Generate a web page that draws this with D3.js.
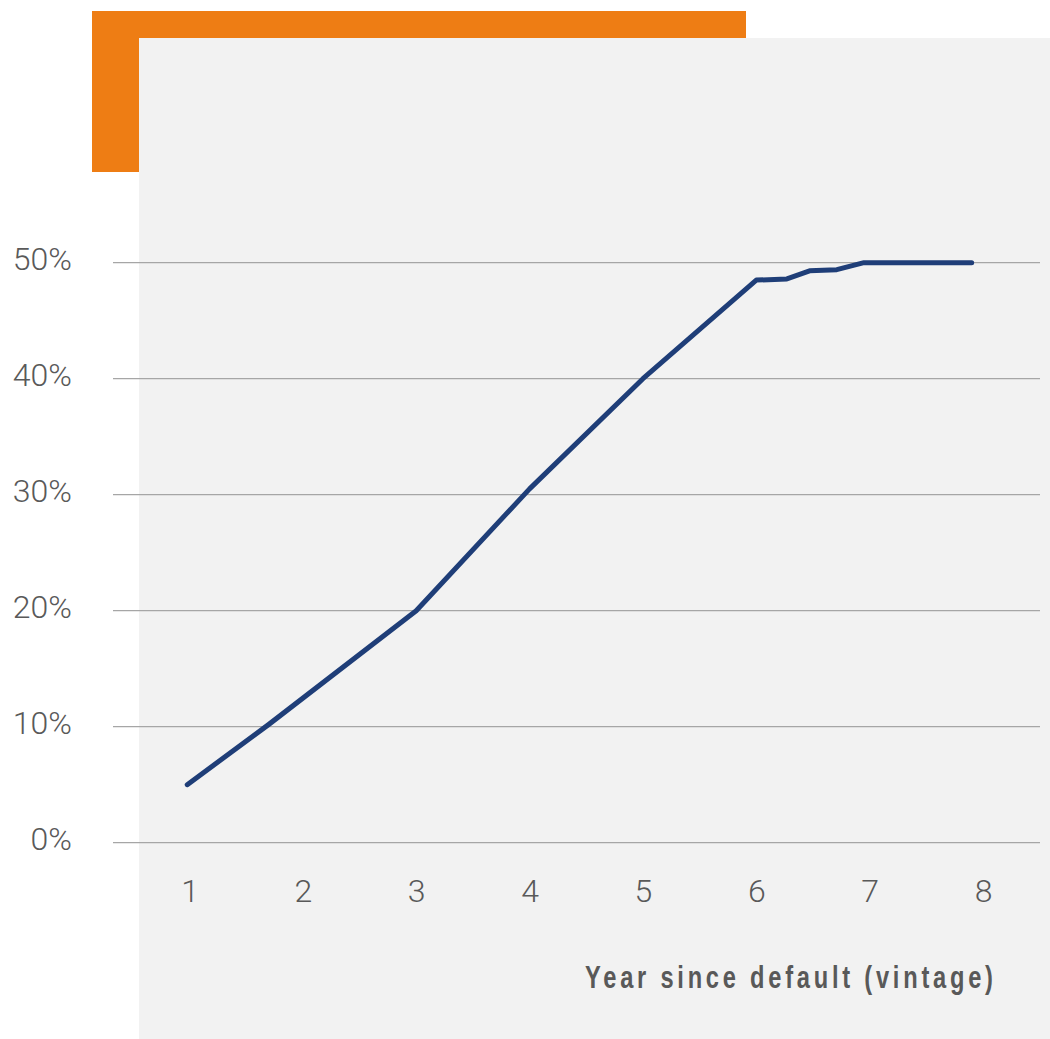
<!DOCTYPE html>
<html>
<head>
<meta charset="utf-8">
<script src="https://cdn.jsdelivr.net/npm/d3@7"></script>
<style>
  html, body { margin: 0; padding: 0; background: #ffffff; }
  svg { display: block; }
</style>
</head>
<body>
<div id="chart"></div>
<script>
// Data
const xTicks = [1, 2, 3, 4, 5, 6, 7, 8];
const yTicks = [0, 10, 20, 30, 40, 50];
const years  = [0.98, 1.7, 3, 4, 5, 6, 6.27, 6.47, 6.71, 6.95, 7.9];
const values = [5, 10.2, 20, 30.5, 40, 48.5, 48.6, 49.3, 49.4, 50, 50];
const xTitle = "Year since default (vintage)";

const W = 1050, H = 1039;
const svg = d3.select("#chart").append("svg").attr("width", W).attr("height", H);

// Decorative background
svg.append("rect").attr("x", 92).attr("y", 11).attr("width", 654).attr("height", 161).attr("fill", "#ee7d14");
svg.append("rect").attr("x", 139).attr("y", 38).attr("width", W - 139).attr("height", H - 38).attr("fill", "#f2f2f2");

const x = d3.scaleLinear().domain([1, 8]).range([189.5, 983]);
const y = d3.scaleLinear().domain([0, 50]).range([842.7, 262.7]);

// Gridlines
svg.append("g").selectAll("line").data(yTicks).join("line")
  .attr("x1", 113).attr("x2", 1040)
  .attr("y1", d => y(d)).attr("y2", d => y(d))
  .attr("stroke", "#a6a6a6").attr("stroke-width", 1.3);

// Y axis labels
const yAxis = d3.axisLeft(y).tickValues(yTicks).tickFormat(d => d + "%").tickSize(0).tickPadding(0);
const gy = svg.append("g").attr("transform", "translate(72,0)").call(yAxis);
gy.select(".domain").remove();
gy.selectAll("text")
  .attr("font-family", "Roboto, sans-serif").attr("font-weight", 300)
  .attr("font-size", 32).attr("fill", "#595959")
  .attr("dy", "0.32em").attr("y", -3);

// X axis labels
const xAxis = d3.axisBottom(x).tickValues(xTicks).tickFormat(d3.format("d")).tickSize(0).tickPadding(0);
const gx = svg.append("g").attr("transform", "translate(0,901.5)").call(xAxis);
gx.select(".domain").remove();
gx.selectAll("text")
  .attr("font-family", "Roboto, sans-serif").attr("font-weight", 300)
  .attr("font-size", 32).attr("fill", "#595959")
  .attr("dy", 0).attr("y", 0);

// Line
const line = d3.line().x((d, i) => x(years[i])).y(d => y(d));
svg.append("path").datum(values)
  .attr("d", line)
  .attr("fill", "none")
  .attr("stroke", "#1f3e78")
  .attr("stroke-width", 5)
  .attr("stroke-linejoin", "round")
  .attr("stroke-linecap", "round");

// X title (condensed, letter-spaced)
svg.append("text")
  .attr("transform", "translate(585,988) scale(0.74,1)")
  .attr("text-anchor", "start")
  .attr("font-family", "'Liberation Sans', Arial, sans-serif")
  .attr("font-weight", "bold")
  .attr("font-size", 32)
  .attr("textLength", 408 / 0.74)
  .attr("lengthAdjust", "spacing")
  .attr("fill", "#595959")
  .text(xTitle);
</script>
</body>
</html>
